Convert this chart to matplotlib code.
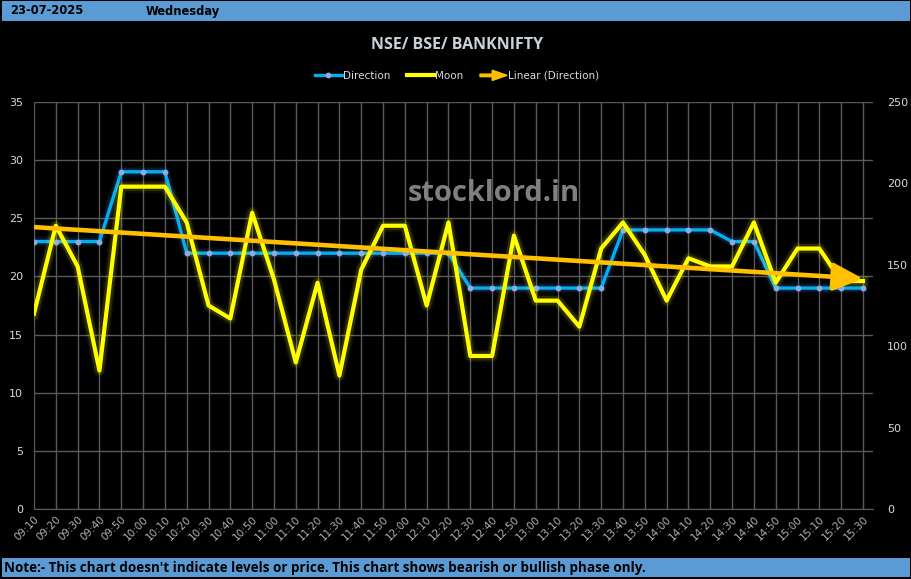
import numpy as np
import matplotlib
matplotlib.use("Agg")
import matplotlib.pyplot as plt
import matplotlib.patches as mpatches
from matplotlib.lines import Line2D
from matplotlib.legend_handler import HandlerPatch

# ---- data ----
times = ["09:10", "09:20", "09:30", "09:40", "09:50", "10:00", "10:10", "10:20", "10:30", "10:40",
         "10:50", "11:00", "11:10", "11:20", "11:30", "11:40", "11:50", "12:00", "12:10", "12:20",
         "12:30", "12:40", "12:50", "13:00", "13:10", "13:20", "13:30", "13:40", "13:50", "14:00",
         "14:10", "14:20", "14:30", "14:40", "14:50", "15:00", "15:10", "15:20", "15:30"]
direction = [23, 23, 23, 23, 29, 29, 29, 22, 22, 22,
             22, 22, 22, 22, 22, 22, 22, 22, 22, 22,
             19, 19, 19, 19, 19, 19, 19, 24, 24, 24,
             24, 24, 23, 23, 19, 19, 19, 19, 19]
moon = [120, 174, 149, 85, 198, 198, 198, 176, 125, 117,
        182, 141, 90, 139, 82, 147, 174, 174, 125, 176,
        94, 94, 168, 128, 128, 112, 160, 176, 156, 128,
        154, 149, 149, 176, 139, 160, 160, 140, 140]
left_ticks = [0, 5, 10, 15, 20, 25, 30, 35]
right_ticks = [0, 50, 100, 150, 200, 250]

BLUE = "#00B0F0"
YELLOW = "#FFFF00"
ORANGE = "#FFC000"
BAR = "#5B9BD5"
TXT = "#D9D9D9"

x = np.arange(len(times))

fig = plt.figure(figsize=(9.12, 5.79), dpi=100, facecolor="black")
ax = fig.add_axes([34/912, 1-509/579, (873-34)/912, (509-102)/579], facecolor="black")
ax2 = ax.twinx()
ax2.patch.set_visible(False)

# axes, ticks, grid
ax.set_xlim(0, 38.46)
ax.set_ylim(0, 35)
ax2.set_ylim(0, 250)
ax.set_xticks(x)
ax.set_yticks(left_ticks)
ax2.set_yticks(right_ticks)
ax.grid(True, color="#595959", lw=1)
ax.set_axisbelow(True)
for a in (ax, ax2):
    for s in a.spines.values():
        s.set_visible(False)
ax.spines["bottom"].set_visible(True)
ax.spines["bottom"].set_color("#595959")
ax.tick_params(length=0, colors=TXT, labelsize=8)
ax2.tick_params(length=0, colors=TXT, labelsize=8, pad=10)
ax.tick_params(axis="y", pad=8)
ax.set_xticklabels(times, rotation=45, ha="right", rotation_mode="anchor", color="#B0B0B0", fontsize=7.5)

# direction (primary axis) with soft glow
for w, al in [(8, 0.08), (5.5, 0.15)]:
    ax.plot(x, direction, color="#2E75D6", lw=w, alpha=al, zorder=2)
ax.plot(x, direction, color=BLUE, lw=2.4, marker="o", ms=3.2, mfc="#8FAADC", mec="#8FAADC", zorder=3)

# moon (secondary axis) with soft glow
for w, al in [(9, 0.06), (6.5, 0.12)]:
    ax2.plot(x, moon, color=YELLOW, lw=w, alpha=al, solid_joinstyle="round", zorder=2)
ax2.plot(x, moon, color=YELLOW, lw=3, zorder=3)

# linear trendline of direction, on top of both series
coef = np.polyfit(x, direction, 1)
trend = np.polyval(coef, x)
ax2.plot(x[:-1], trend[:-1], color=ORANGE, lw=3.3, zorder=4, solid_capstyle="butt", transform=ax.transData)
ax2.annotate("", xy=(x[-1], trend[-1]), xytext=(x[-2], trend[-2]),
             xycoords=ax.transData, textcoords=ax.transData,
             arrowprops=dict(arrowstyle="-|>,head_length=0.9,head_width=0.42", color=ORANGE,
                             lw=3.3, mutation_scale=20, shrinkA=0, shrinkB=0), zorder=5)

# watermark
ax2.text(0.548, 0.775, "stocklord.in", transform=ax.transAxes, ha="center", va="center",
         color="#808080", fontsize=21, fontweight="bold", family="Open Sans", zorder=6)

# title
fig.text(457/912, 1-45/579, "NSE/ BSE/ BANKNIFTY", ha="center", va="center",
         color="#C9D1DC", fontsize=11.5, fontweight="bold", family="Open Sans")


# legend
def make_arrow(legend, orig_handle, xdescent, ydescent, width, height, fontsize):
    return mpatches.FancyArrow(0, height/2, width, 0, width=height*0.35, head_width=height*1.4,
                               head_length=width*0.55, length_includes_head=True, color=ORANGE)


handles = [Line2D([], [], color=BLUE, lw=2.4, marker="o", ms=3.2, mfc="#8FAADC", mec="#8FAADC"),
           Line2D([], [], color=YELLOW, lw=3),
           mpatches.Patch(color=ORANGE)]
leg = fig.legend(handles, ["Direction", "Moon", "Linear (Direction)"], loc="center",
                 bbox_to_anchor=(457/912, 1-76/579), ncol=3, frameon=False, fontsize=7.5,
                 handlelength=2.6, columnspacing=1.6, handletextpad=0.1,
                 handler_map={mpatches.Patch: HandlerPatch(patch_func=make_arrow)})
for t in leg.get_texts():
    t.set_color(TXT)

# top and bottom bars
fig.patches.append(mpatches.Rectangle((2/912, 1-21/579), 908/912, 20/579, transform=fig.transFigure,
                                      facecolor=BAR, edgecolor="none"))
fig.text(10/912, 1-11/579, "23-07-2025", ha="left", va="center", fontsize=8.3, fontweight="bold",
         color="black")
fig.text(146/912, 1-11/579, "Wednesday", ha="left", va="center", fontsize=8.3, fontweight="bold",
         color="black")
fig.patches.append(mpatches.Rectangle((2/912, 1-577/579), 908/912, 19/579, transform=fig.transFigure,
                                      facecolor=BAR, edgecolor="none"))
fig.text(4/912, 1-568/579, "Note:- This chart doesn't indicate levels or price. This chart shows bearish or bullish phase only.",
         ha="left", va="center", fontsize=9.75, fontweight="bold", color="black", family="Open Sans")

fig.savefig("out.png", dpi=100, facecolor="black")
